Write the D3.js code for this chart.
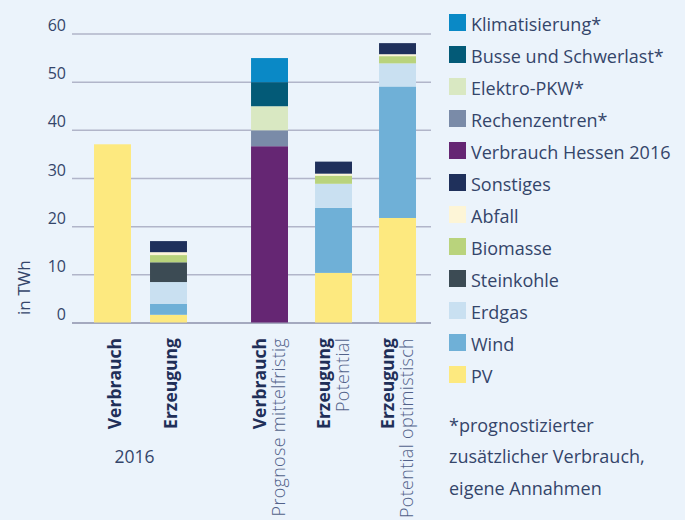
<!DOCTYPE html>
<html>
<head>
<meta charset="utf-8">
<script src="https://cdn.jsdelivr.net/npm/d3@7"></script>
<style>
  html, body { margin: 0; padding: 0; background: #ebf3fb; }
  body { width: 685px; height: 520px; overflow: hidden; font-family: 'Open Sans', sans-serif; }
  .chart svg { display: block; }
</style>
</head>
<body>
<div class="chart"></div>
<script>
// bars, left to right
const categories = ['Verbrauch 2016', 'Erzeugung 2016', 'Verbrauch Prognose', 'Erzeugung Potential', 'Erzeugung optimistisch'];
const labelBold = ['Verbrauch', 'Erzeugung', 'Verbrauch', 'Erzeugung', 'Erzeugung'];
const labelLight = ['', '', 'Prognose mittelfristig', 'Potential', 'Potential optimistisch'];
const groupLabel = '2016';

// series values in TWh, stack order bottom -> top
const pv         = [37.0, 1.6, 0, 10.3, 21.7];
const wind       = [0, 2.3, 0, 13.5, 27.3];
const erdgas     = [0, 4.5, 0, 5.0, 4.8];
const steinkohle = [0, 4.1, 0, 0, 0];
const biomasse   = [0, 1.5, 0, 1.7, 1.5];
const abfall     = [0, 0.6, 0, 0.4, 0.4];
const sonstiges  = [0, 2.3, 0, 2.5, 2.3];
const verbrauchHessen = [0, 0, 36.6, 0, 0];
const rechenzentren   = [0, 0, 3.3, 0, 0];
const elektroPkw      = [0, 0, 5.0, 0, 0];
const busse           = [0, 0, 5.0, 0, 0];
const klima           = [0, 0, 5.0, 0, 0];

const seriesNames = ['PV', 'Wind', 'Erdgas', 'Steinkohle', 'Biomasse', 'Abfall', 'Sonstiges',
  'Verbrauch Hessen 2016', 'Rechenzentren*', 'Elektro-PKW*', 'Busse und Schwerlast*', 'Klimatisierung*'];
const seriesValues = [pv, wind, erdgas, steinkohle, biomasse, abfall, sonstiges,
  verbrauchHessen, rechenzentren, elektroPkw, busse, klima];
const seriesColors = ['#fde97f', '#6fb0d7', '#c9e0f1', '#3c4b54', '#b9d37c', '#fdf5d7', '#1f305b',
  '#652673', '#7a8ba8', '#d9e8c2', '#035a77', '#0a89c6'];

const yTicks = [0, 10, 20, 30, 40, 50, 60];
const footnote = ['*prognostizierter', 'zusätzlicher Verbrauch,', 'eigene Annahmen'];

const width = 685, height = 520;
const textColor = '#34456a';

// table for d3.stack
const table = categories.map((c, i) => {
  const row = {category: c};
  seriesNames.forEach((s, j) => row[s] = seriesValues[j][i]);
  return row;
});
const stacked = d3.stack().keys(seriesNames)(table);

const color = d3.scaleOrdinal().domain(seriesNames).range(seriesColors);

const svg = d3.select('.chart').append('svg')
  .attr('width', width)
  .attr('height', height)
  .style('font-family', "'Open Sans', sans-serif");

const yScale = d3.scaleLinear().domain([0, 60]).range([322.5, 33.5]);

// two groups of bars with a gap between them
const xA = d3.scaleBand().domain(categories.slice(0, 2)).range([84.5, 196.5])
  .paddingInner(0.34).paddingOuter(0.17);
const xB = d3.scaleBand().domain(categories.slice(2)).range([237.6, 429.6])
  .paddingInner(0.42).paddingOuter(0.21);
const xPos = c => xA.domain().includes(c) ? xA(c) : xB(c);
const bw = xA.bandwidth();

// grid + y labels
const yAxis = d3.axisLeft(yScale)
  .tickValues(yTicks)
  .tickSize(-(431 - 72))
  .tickPadding(6);

const gy = svg.append('g')
  .attr('class', 'axis y-axis')
  .attr('transform', 'translate(72,0)')
  .call(yAxis);
gy.select('.domain').remove();
gy.selectAll('.tick line')
  .attr('stroke', d => d === 0 ? '#8c90ab' : '#b1b5c9')
  .attr('stroke-width', 1.5);
gy.selectAll('.tick text')
  .attr('fill', textColor)
  .attr('font-size', 16)
  .attr('font-family', "'Open Sans', sans-serif")
  .attr('dy', '-0.18em');

svg.append('text')
  .attr('transform', 'translate(30,315) rotate(-90)')
  .attr('text-anchor', 'start')
  .attr('fill', textColor)
  .attr('font-size', 17)
  .text('in TWh');

// bars
svg.append('g').selectAll('g')
  .data(stacked)
  .enter()
  .append('g')
  .attr('fill', d => color(d.key))
  .selectAll('rect')
  .data(d => d)
  .enter()
  .append('rect')
  .attr('x', d => xPos(d.data.category))
  .attr('width', bw)
  .attr('y', d => yScale(d[1]))
  .attr('height', d => Math.max(0, yScale(d[0]) - yScale(d[1])));

// x labels, rotated
const xl = svg.append('g').selectAll('g')
  .data(categories)
  .enter()
  .append('g')
  .attr('transform', c => {
    const cx = xPos(c) + bw / 2;
    return 'translate(' + cx + ',338) rotate(-90)';
  });

xl.append('text')
  .attr('text-anchor', 'end')
  .attr('y', (c, i) => labelLight[i] ? -3.5 : 8)
  .attr('fill', '#1f2f58')
  .attr('font-weight', 700)
  .attr('font-size', 17.5)
  .text((c, i) => labelBold[i]);

xl.append('text')
  .attr('text-anchor', 'end')
  .attr('y', 15)
  .attr('fill', '#52628a')
  .attr('font-weight', 300)
  .attr('font-size', 18)
  .attr('letter-spacing', 0.3)
  .text((c, i) => labelLight[i]);

svg.append('text')
  .attr('x', (xA.range()[0] + xA.range()[1]) / 2 - 6)
  .attr('y', 463.3)
  .attr('text-anchor', 'middle')
  .attr('fill', textColor)
  .attr('font-size', 17.5)
  .text(groupLabel);

// legend, top = last stacked series
const legendRectSize = 17;
const legendSpacing = 32;
const legendItems = seriesNames.slice().reverse();

const legend = svg.selectAll('.legend')
  .data(legendItems)
  .enter()
  .append('g')
  .attr('class', 'legend')
  .attr('transform', (d, i) => 'translate(449,' + (14 + i * legendSpacing) + ')');

legend.append('rect')
  .attr('width', legendRectSize)
  .attr('height', legendRectSize)
  .style('fill', color);

legend.append('text')
  .attr('x', legendRectSize + 5)
  .attr('y', legendRectSize - 0.5)
  .attr('font-size', 18)
  .attr('fill', textColor)
  .text(d => d);

svg.append('g').selectAll('text')
  .data(footnote)
  .enter()
  .append('text')
  .attr('x', 449)
  .attr('y', (d, i) => 431.7 + i * 31.7)
  .attr('font-size', 18)
  .attr('fill', textColor)
  .text(d => d);
</script>
</body>
</html>
